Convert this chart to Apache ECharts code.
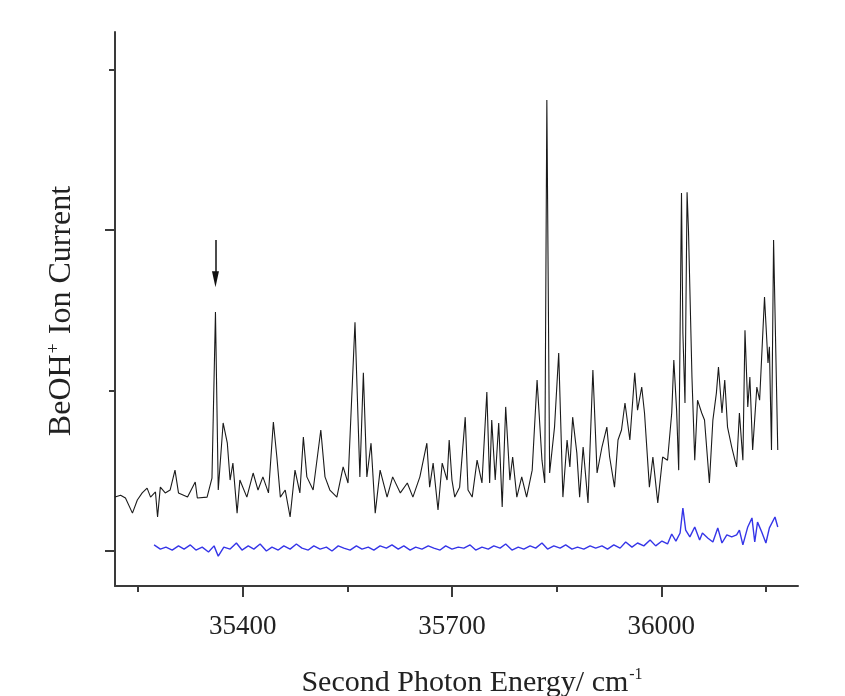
<!DOCTYPE html>
<html>
<head>
<meta charset="utf-8">
<script src="https://cdn.jsdelivr.net/npm/echarts@6.0.0/dist/echarts.min.js"></script>
<style>
html,body{margin:0;padding:0;background:#fff;}
#chart{width:845px;height:696px;}
</style>
</head>
<body>
<div id="chart"></div>
<script>
// Spectrum (black): second photon energy (cm-1) and BeOH+ ion current (arb. units)
var ionEnergy = [35217,35225,35232,35242,35249,35256,35263,35268,35275,35278,35282,35289,35296,35303,35308,35321,35332,35335,35349,35356,35361,35365,35372,35378,35382,35386,35392,35396,35406,35415,35422,35429,35437,35444,35449,35454,35461,35468,35475,35482,35487,35492,35501,35512,35518,35525,35535,35544,35551,35561,35568,35573,35578,35584,35590,35597,35607,35615,35626,35636,35644,35654,35664,35668,35673,35680,35686,35693,35696,
35700,35704,35711,35719,35723,35729,35736,35743,35750,35754,35757,35762,35767,35772,35777,35783,35787,35793,35800,35807,35815,35822,35829,35833,35836,35840,35847,35853,35859,35865,35869,35873,35879,35883,35888,35895,35902,35908,35915,35922,35926,35933,35938,35943,35948,35955,35962,35966,35972,35976,35983,35988,35995,36002,36009,36015,36018,36022,36025,36029,36031,36034,36037,36039,36044,36048,36052,36058,36062,36069,36074,36079,36082,36087,36091,36095,36101,36108,36112,36117,36120,36124,36127,36131,36137,36141,36148,36153,36155,36158,36161,36167];
var ionCurrent = [0.168,0.174,0.165,0.118,0.159,0.181,0.196,0.168,0.184,0.106,0.199,0.181,0.190,0.252,0.181,0.168,0.215,0.165,0.168,0.227,0.745,0.190,0.399,0.336,0.221,0.274,0.118,0.221,0.168,0.243,0.190,0.231,0.181,0.402,0.293,0.168,0.190,0.106,0.252,0.181,0.355,0.231,0.190,0.377,0.231,0.190,0.168,0.262,0.212,0.713,0.231,0.555,0.231,0.336,0.118,0.252,0.168,0.231,0.181,0.212,0.168,0.231,0.336,0.199,0.274,0.128,0.274,0.221,0.346,
0.221,0.168,0.199,0.417,0.190,0.168,0.283,0.212,0.495,0.212,0.408,0.221,0.399,0.137,0.449,0.221,0.293,0.168,0.231,0.168,0.252,0.533,0.283,0.212,1.405,0.243,0.386,0.617,0.168,0.346,0.262,0.417,0.305,0.168,0.324,0.150,0.564,0.243,0.324,0.386,0.293,0.199,0.346,0.377,0.461,0.346,0.555,0.439,0.511,0.430,0.199,0.293,0.150,0.293,0.283,0.430,0.595,0.439,0.252,1.115,0.679,0.461,1.118,1.000,0.542,0.283,0.470,0.430,0.408,0.212,0.408,0.492,0.573,0.430,0.533,0.386,0.324,0.262,0.430,0.283,0.688,0.449,0.542,0.315,0.511,0.470,0.791,0.586,0.636,0.315,0.969,0.315];

// Background trace (blue)
var bgEnergy = [35273,35282,35290,35299,35308,35316,35325,35333,35342,35351,35359,35365,35373,35382,35391,35399,35408,35416,35425,35434,35442,35451,35459,35468,35477,35485,35494,35502,35511,35520,35528,35537,35545,35554,35563,35571,35580,35588,35597,35606,35614,35623,35631,35640,35648,35657,35666,35674,35683,35691,35700,35709,35717,35726,35734,35743,35752,35760,35769,35777,35786,35795,35803,35812,35820,35829,35837,35846,35855,35863,35872,35880,35889,35898,35906,35915,35923,35932,35941,35949,35958,35966,35975,35984,35992,36001,36009,36015,36021,36027,36031,36035,36041,36048,36055,36059,36067,36074,36081,36087,36094,36101,36108,36112,36117,36124,36130,36134,36138,36144,36150,36155,36163,36167];
var bgCurrent = [0.019,0.006,0.012,0.003,0.016,0.006,0.019,0.003,0.012,-0.003,0.016,-0.016,0.012,0.006,0.025,0.003,0.016,0.006,0.022,0.000,0.012,0.003,0.016,0.006,0.022,0.009,0.003,0.016,0.006,0.012,0.000,0.016,0.009,0.003,0.016,0.006,0.012,0.003,0.016,0.009,0.019,0.006,0.016,0.003,0.012,0.006,0.016,0.009,0.003,0.016,0.006,0.012,0.009,0.019,0.003,0.012,0.006,0.016,0.009,0.022,0.003,0.012,0.006,0.016,0.009,0.025,0.006,0.016,0.009,0.019,0.006,0.012,0.006,0.016,0.009,0.016,0.006,0.019,0.009,0.028,0.012,0.025,0.016,0.034,0.016,0.031,0.022,0.053,0.031,0.056,0.134,0.065,0.044,0.075,0.034,0.056,0.040,0.028,0.072,0.025,0.050,0.044,0.050,0.065,0.019,0.075,0.103,0.028,0.090,0.059,0.025,0.072,0.106,0.075];

// Axis ticks
var xMajorTicks = [35400, 35700, 36000];
var xMinorTicks = [35250, 35550, 35850, 36150];
var yMajorTicks = [0, 1];
var yMinorTicks = [0.5, 1.5];
var arrowEnergy = 35361;
var arrowFrom = 0.969, arrowTo = 0.847;

var xMin = 35217, xMax = 36196;
var yMin = -0.109, yMax = 1.617;

function zip(a, b) { return a.map(function (v, i) { return [v, b[i]]; }); }

var chart = echarts.init(document.getElementById('chart'), null, {renderer: 'canvas'});
var axisColor = '#3a3a3a';
var font = '"Liberation Serif", "Times New Roman", serif';

var option = {
  backgroundColor: '#ffffff',
  animation: false,
  grid: {left: 115, right: 47, top: 32, bottom: 110, containLabel: false},
  xAxis: [
    {
      type: 'value', min: xMin, max: xMax, position: 'bottom',
      axisLine: {show: true, onZero: false, lineStyle: {color: axisColor, width: 2}},
      axisTick: {show: true, customValues: xMajorTicks, length: 11, inside: false, lineStyle: {color: axisColor, width: 2}},
      axisLabel: {show: true, customValues: xMajorTicks, margin: 27, color: '#222', fontFamily: font, fontSize: 27,
        formatter: function (v) { return String(v); }},
      splitLine: {show: false}
    },
    {
      type: 'value', min: xMin, max: xMax, position: 'bottom',
      axisLine: {show: false, onZero: false},
      axisTick: {show: true, customValues: xMinorTicks, length: 6, lineStyle: {color: axisColor, width: 2}},
      axisLabel: {show: false},
      splitLine: {show: false}
    }
  ],
  yAxis: [
    {
      type: 'value', min: yMin, max: yMax, position: 'left',
      axisLine: {show: true, onZero: false, lineStyle: {color: axisColor, width: 2}},
      axisTick: {show: true, customValues: yMajorTicks, length: 10, lineStyle: {color: axisColor, width: 2}},
      axisLabel: {show: false},
      splitLine: {show: false}
    },
    {
      type: 'value', min: yMin, max: yMax, position: 'left',
      axisLine: {show: false, onZero: false},
      axisTick: {show: true, customValues: yMinorTicks, length: 6, lineStyle: {color: axisColor, width: 2}},
      axisLabel: {show: false},
      splitLine: {show: false}
    }
  ],
  series: [
    {
      type: 'line', xAxisIndex: 0, yAxisIndex: 0,
      data: zip(bgEnergy, bgCurrent),
      showSymbol: false, symbol: 'none',
      lineStyle: {color: '#3535e8', width: 1.4},
      silent: true, z: 2
    },
    {
      type: 'line', xAxisIndex: 0, yAxisIndex: 0,
      data: zip(ionEnergy, ionCurrent),
      showSymbol: false, symbol: 'none',
      lineStyle: {color: '#1a1a1a', width: 1.1},
      silent: true, z: 3,
      markLine: {
        silent: true, animation: false,
        symbol: ['none', 'triangle'], symbolSize: [7, 16],
        label: {show: false},
        lineStyle: {color: '#111', width: 1.5, type: 'solid'},
        data: [[{coord: [arrowEnergy, arrowFrom]}, {coord: [arrowEnergy, arrowTo]}]]
      }
    }
  ],
  graphic: [
    {
      type: 'text', x: 472, y: 683,
      style: {
        text: 'Second Photon Energy/ cm{sup|-1}',
        fontFamily: font, fontSize: 30, fill: '#222',
        align: 'center', verticalAlign: 'middle',
        rich: {sup: {fontFamily: font, fontSize: 16, fill: '#222', verticalAlign: 'bottom', padding: [0, 0, 16, 1]}}
      }
    },
    {
      type: 'text', x: 62, y: 311, rotation: Math.PI / 2,
      style: {
        text: 'BeOH{sup|+} Ion Current',
        fontFamily: font, fontSize: 32, fill: '#222',
        align: 'center', verticalAlign: 'middle',
        rich: {sup: {fontFamily: font, fontSize: 18, fill: '#222', verticalAlign: 'bottom', padding: [0, 1, 16, 1]}}
      }
    }
  ]
};
chart.setOption(option);
</script>
</body>
</html>
